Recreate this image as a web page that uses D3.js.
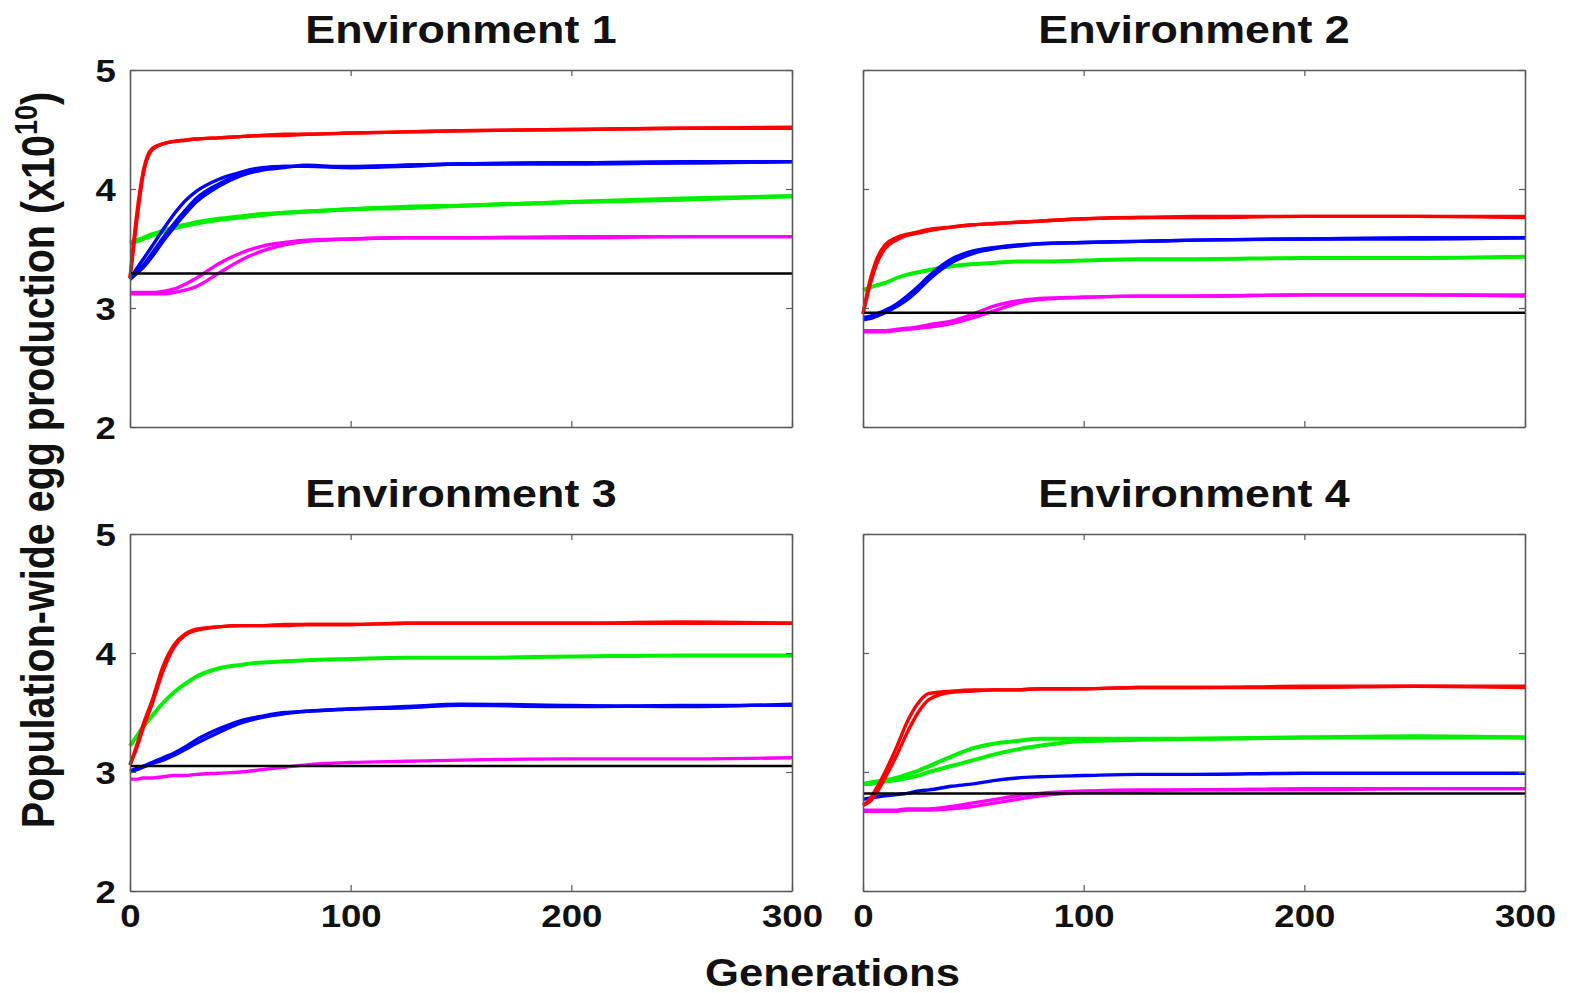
<!DOCTYPE html>
<html>
<head>
<meta charset="utf-8">
<script src="https://cdn.jsdelivr.net/npm/d3@7"></script>
<style>
  body { margin: 0; background: #fff; }
  text { font-family: "Liberation Sans", Arial, sans-serif; font-weight: bold; fill: #111; }
</style>
</head>
<body>
<script>
const width = 1572;
const height = 993;
const stretch = 1.15;   // the original figure's text is a bit wider than Arial

// sampled generations shared by every series
const gens = [0, 3, 6, 10, 15, 20, 25, 30, 40, 50, 60, 70, 80, 100, 125, 150, 200, 250, 300];

const titles = ["Environment 1", "Environment 2", "Environment 3", "Environment 4"];
const xTicks = [0, 100, 200, 300];
const yTicks = [2, 3, 4, 5];

// baseline (black) level for each environment
const blackLevel = [3.29, 2.96, 3.05, 2.82];

// Environment 1
const env1Red = [
    [3.25, 3.78, 4.15, 4.34, 4.38, 4.40, 4.41, 4.42, 4.43, 4.44, 4.45, 4.45, 4.46, 4.47, 4.48, 4.49, 4.50, 4.51, 4.51],
    [3.25, 3.72, 4.12, 4.33, 4.38, 4.40, 4.41, 4.42, 4.43, 4.44, 4.45, 4.46, 4.46, 4.47, 4.48, 4.49, 4.50, 4.51, 4.52]
];
const env1Blue = [
    [3.25, 3.33, 3.41, 3.52, 3.66, 3.79, 3.90, 3.98, 4.08, 4.14, 4.18, 4.19, 4.19, 4.18, 4.20, 4.21, 4.22, 4.22, 4.23],
    [3.25, 3.30, 3.36, 3.46, 3.59, 3.71, 3.82, 3.92, 4.04, 4.12, 4.17, 4.19, 4.19, 4.19, 4.20, 4.21, 4.22, 4.23, 4.23],
    [3.24, 3.29, 3.34, 3.43, 3.56, 3.68, 3.79, 3.89, 4.02, 4.11, 4.16, 4.18, 4.20, 4.18, 4.19, 4.21, 4.21, 4.22, 4.23]
];
const env1Green = [
    [3.55, 3.57, 3.59, 3.62, 3.65, 3.68, 3.70, 3.72, 3.75, 3.77, 3.79, 3.80, 3.81, 3.83, 3.85, 3.86, 3.89, 3.92, 3.94],
    [3.54, 3.56, 3.58, 3.61, 3.64, 3.67, 3.69, 3.71, 3.74, 3.76, 3.78, 3.80, 3.81, 3.83, 3.84, 3.86, 3.89, 3.91, 3.94]
];
const env1Magenta = [
    [3.13, 3.13, 3.13, 3.13, 3.14, 3.16, 3.20, 3.25, 3.37, 3.46, 3.52, 3.55, 3.57, 3.58, 3.59, 3.59, 3.59, 3.60, 3.60],
    [3.12, 3.12, 3.12, 3.12, 3.12, 3.13, 3.15, 3.18, 3.29, 3.40, 3.48, 3.53, 3.56, 3.58, 3.59, 3.59, 3.60, 3.60, 3.60]
];

// Environment 2
const env2Red = [
    [2.95, 3.22, 3.40, 3.53, 3.59, 3.62, 3.64, 3.66, 3.68, 3.70, 3.71, 3.72, 3.73, 3.75, 3.76, 3.77, 3.77, 3.77, 3.76],
    [2.95, 3.18, 3.36, 3.50, 3.57, 3.61, 3.63, 3.65, 3.68, 3.70, 3.71, 3.72, 3.73, 3.75, 3.76, 3.76, 3.77, 3.77, 3.77]
];
const env2Blue = [
    [2.92, 2.93, 2.95, 2.98, 3.03, 3.10, 3.18, 3.27, 3.41, 3.48, 3.51, 3.53, 3.54, 3.55, 3.56, 3.57, 3.58, 3.58, 3.59],
    [2.90, 2.91, 2.93, 2.96, 3.01, 3.07, 3.15, 3.24, 3.38, 3.46, 3.50, 3.52, 3.54, 3.55, 3.56, 3.57, 3.58, 3.59, 3.59]
];
const env2Green = [
    [3.15, 3.17, 3.19, 3.21, 3.25, 3.28, 3.30, 3.32, 3.35, 3.37, 3.38, 3.39, 3.39, 3.40, 3.41, 3.41, 3.42, 3.42, 3.43]
];
const env2Magenta = [
    [2.81, 2.81, 2.81, 2.81, 2.82, 2.83, 2.84, 2.86, 2.89, 2.95, 3.02, 3.06, 3.08, 3.09, 3.10, 3.10, 3.11, 3.11, 3.10],
    [2.80, 2.80, 2.80, 2.80, 2.81, 2.82, 2.83, 2.84, 2.87, 2.92, 2.98, 3.04, 3.07, 3.09, 3.10, 3.10, 3.11, 3.11, 3.11]
];

// Environment 3
const env3Red = [
    [3.06, 3.22, 3.40, 3.60, 3.89, 4.07, 4.16, 4.20, 4.22, 4.23, 4.23, 4.23, 4.24, 4.24, 4.25, 4.25, 4.25, 4.25, 4.25],
    [3.06, 3.20, 3.37, 3.57, 3.85, 4.05, 4.15, 4.19, 4.22, 4.23, 4.23, 4.24, 4.24, 4.24, 4.25, 4.25, 4.25, 4.26, 4.25]
];
const env3Blue = [
    [3.01, 3.03, 3.05, 3.08, 3.12, 3.16, 3.21, 3.27, 3.36, 3.43, 3.47, 3.50, 3.51, 3.53, 3.54, 3.56, 3.55, 3.56, 3.56],
    [3.00, 3.02, 3.04, 3.07, 3.10, 3.14, 3.19, 3.24, 3.33, 3.41, 3.46, 3.49, 3.51, 3.53, 3.55, 3.57, 3.56, 3.55, 3.57]
];
const env3Green = [
    [3.22, 3.30, 3.38, 3.47, 3.58, 3.67, 3.74, 3.80, 3.87, 3.90, 3.92, 3.93, 3.94, 3.95, 3.96, 3.96, 3.97, 3.98, 3.98]
];
const env3Magenta = [
    [2.94, 2.94, 2.95, 2.95, 2.96, 2.97, 2.97, 2.98, 2.99, 3.00, 3.02, 3.04, 3.06, 3.08, 3.09, 3.10, 3.11, 3.11, 3.12]
];

// Environment 4
const env4Red = [
    [2.72, 2.77, 2.86, 3.00, 3.20, 3.42, 3.58, 3.66, 3.68, 3.69, 3.69, 3.69, 3.70, 3.70, 3.71, 3.71, 3.71, 3.72, 3.71],
    [2.72, 2.75, 2.82, 2.95, 3.13, 3.33, 3.50, 3.61, 3.67, 3.68, 3.69, 3.69, 3.70, 3.70, 3.71, 3.71, 3.72, 3.72, 3.72]
];
const env4Blue = [
    [2.77, 2.78, 2.79, 2.80, 2.81, 2.82, 2.84, 2.85, 2.88, 2.90, 2.93, 2.95, 2.96, 2.97, 2.98, 2.98, 2.99, 2.99, 2.99]
];
const env4Green = [
    [2.90, 2.91, 2.92, 2.93, 2.95, 2.98, 3.01, 3.05, 3.13, 3.20, 3.24, 3.26, 3.28, 3.28, 3.28, 3.28, 3.29, 3.30, 3.29],
    [2.90, 2.90, 2.91, 2.92, 2.93, 2.95, 2.97, 3.00, 3.05, 3.10, 3.15, 3.19, 3.22, 3.26, 3.27, 3.28, 3.29, 3.29, 3.29]
];
const env4Magenta = [
    [2.68, 2.68, 2.68, 2.68, 2.68, 2.69, 2.69, 2.69, 2.71, 2.74, 2.77, 2.80, 2.82, 2.84, 2.85, 2.85, 2.86, 2.86, 2.86],
    [2.67, 2.67, 2.67, 2.67, 2.67, 2.68, 2.68, 2.68, 2.69, 2.71, 2.74, 2.77, 2.80, 2.83, 2.84, 2.85, 2.85, 2.86, 2.86]
];

const red = "#ff0000", blue = "#0000ff", green = "#00f000", magenta = "#ff00ff";
const frameColor = "#5a5a5a";

// drawing order inside each panel
const panelSeries = [
    [[env1Magenta, magenta], [env1Green, green], [env1Blue, blue], [env1Red, red]],
    [[env2Magenta, magenta], [env2Green, green], [env2Blue, blue], [env2Red, red]],
    [[env3Magenta, magenta], [env3Blue, blue], [env3Green, green], [env3Red, red]],
    [[env4Magenta, magenta], [env4Blue, blue], [env4Green, green], [env4Red, red]]
];

const panelPos = [
    {left: 130, top: 70},
    {left: 863, top: 70},
    {left: 130, top: 534},
    {left: 863, top: 534}
];
const panelW = 662;
const panelH = 357;

const svg = d3.select("body")
    .append("svg")
    .attr("width", width)
    .attr("height", height)
    .style("background", "#fff");

const x = d3.scaleLinear().domain([0, 300]).range([0, panelW]);
const y = d3.scaleLinear().domain([2, 5]).range([panelH, 0]);

const line = d3.line()
    .x((d, i) => x(gens[i]))
    .y(d => y(d))
    .curve(d3.curveMonotoneX);

panelPos.forEach((p, k) => {
    const g = svg.append("g").attr("transform", `translate(${p.left},${p.top})`);

    // series
    panelSeries[k].forEach(([reps, color]) => {
        reps.forEach(vals => {
            g.append("path")
                .attr("d", line(vals))
                .attr("fill", "none")
                .attr("stroke", color)
                .attr("stroke-width", color === green ? 4 : 3.4)
                .attr("stroke-linejoin", "round");
        });
    });

    // black baseline
    g.append("line")
        .attr("x1", x(0)).attr("x2", x(300))
        .attr("y1", y(blackLevel[k])).attr("y2", y(blackLevel[k]))
        .attr("stroke", "#000")
        .attr("stroke-width", 2.5);

    // axes (inward ticks, like MATLAB)
    const bottomAxis = d3.axisBottom(x).tickValues(xTicks).tickSizeInner(-6).tickSizeOuter(0).tickPadding(14).tickFormat(d3.format("d"));
    const topAxis = d3.axisTop(x).tickValues(xTicks).tickSizeInner(-6).tickSizeOuter(0).tickFormat("");
    const leftAxis = d3.axisLeft(y).tickValues(yTicks).tickSizeInner(-6).tickSizeOuter(0).tickPadding(12).tickFormat(d3.format("d"));
    const rightAxis = d3.axisRight(y).tickValues(yTicks).tickSizeInner(-6).tickSizeOuter(0).tickFormat("");

    const showX = k >= 2;
    const showY = k % 2 === 0;
    if (!showX) bottomAxis.tickFormat("");
    if (!showY) leftAxis.tickFormat("");

    const axes = [
        g.append("g").attr("transform", `translate(0,${panelH})`).call(bottomAxis),
        g.append("g").call(topAxis),
        g.append("g").call(leftAxis),
        g.append("g").attr("transform", `translate(${panelW},0)`).call(rightAxis)
    ];
    axes.forEach(a => {
        a.select(".domain").attr("stroke", frameColor).attr("stroke-width", 1.6);
        a.selectAll(".tick line").attr("stroke", frameColor).attr("stroke-width", 1.2);
        a.selectAll(".tick text")
            .style("font-family", '"Liberation Sans", Arial, sans-serif')
            .style("font-weight", "bold")
            .attr("font-size", 31)
            .attr("fill", "#111");
    });
    axes[0].selectAll(".tick text").attr("transform", "scale(1.18,1)").attr("dy", "0.72em");
    axes[2].selectAll(".tick text").attr("transform", "scale(1.18,1)").attr("dy", "0.36em");

    // title
    svg.append("text")
        .attr("transform", `translate(${p.left + panelW / 2},${p.top - 27}) scale(${stretch},1)`)
        .attr("text-anchor", "middle")
        .attr("font-size", 39)
        .text(titles[k]);
});

// x label
svg.append("text")
    .attr("transform", `translate(${(130 + 863 + panelW) / 2 + 5},986) scale(${stretch},1)`)
    .attr("text-anchor", "middle")
    .attr("font-size", 38)
    .text("Generations");

// y label with superscript
const yLab = svg.append("text")
    .attr("transform", `translate(54,460) scale(${stretch},1) rotate(-90)`)
    .attr("text-anchor", "middle")
    .attr("font-size", 39.5);
yLab.append("tspan").text("Population-wide egg production (x10");
yLab.append("tspan").attr("dy", -15).attr("font-size", 27).text("10");
yLab.append("tspan").attr("dy", 15).text(")");
</script>
</body>
</html>
